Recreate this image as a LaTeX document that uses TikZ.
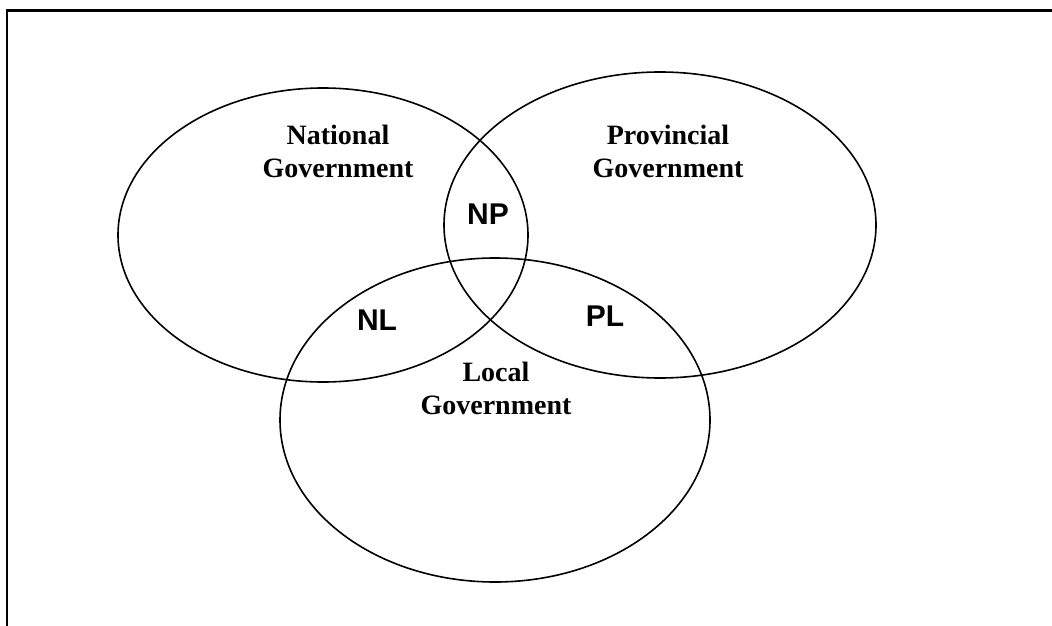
\documentclass[tikz,border=0pt]{standalone}
\usepackage{fontspec}
\setmainfont{Liberation Serif}
\newfontfamily\arialfont{Liberation Sans}
\usepackage{tikz}

\begin{document}
\begin{tikzpicture}[x=1pt, y=-1pt, line width=1.6pt,
	govlabel/.style={font=\fontsize{28}{33}\selectfont\bfseries, align=center},
	overlap/.style={font=\arialfont\fontsize{30}{34}\selectfont\bfseries}]
	\useasboundingbox (0,0) rectangle (1052,626);
	% frame: left and top edges only
	\draw[line width=2.2pt] (7,626) -- (7,10.5) -- (1052,10.5);
	% the three circles
	\draw (323,235) ellipse [x radius=205, y radius=147];
	\draw (660,225) ellipse [x radius=216, y radius=153];
	\draw (495,420) ellipse [x radius=215, y radius=162];
	\node[govlabel] (national) at (338,151) {National\\Government};
	\node[govlabel] (provincial) at (668,151) {Provincial\\Government};
	\node[govlabel] (local) at (496,388) {Local\\Government};
	\node[overlap] (np) at (488,214) {NP};
	\node[overlap] (nl) at (377,320) {NL};
	\node[overlap] (pl) at (605,316) {PL};
\end{tikzpicture}
\end{document}
